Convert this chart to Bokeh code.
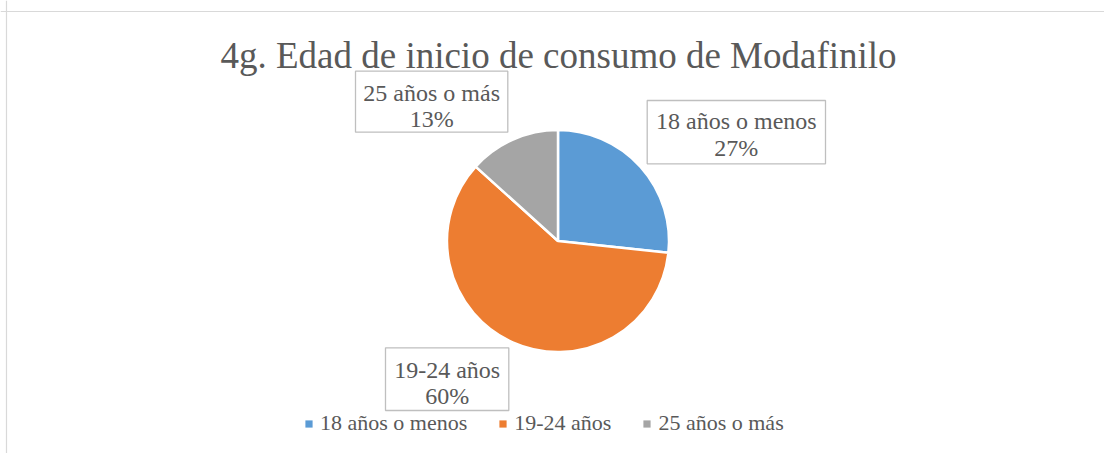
import numpy as np
from bokeh.plotting import figure
from bokeh.models import (Range1d, ColumnDataSource, BoxAnnotation, Label,
                          Legend, LegendItem, Span)
from bokeh.embed import file_html
from bokeh.resources import INLINE

# ---------------- data ----------------
title_text = "4g. Edad de inicio de consumo de Modafinilo"
categories = ["18 años o menos", "19-24 años", "25 años o más"]
shares = [26.7, 60.0, 13.3]          # percent
colors = ["#5B9BD5", "#ED7D31", "#A5A5A5"]

# ---------------- layout helpers ----------------
W, H = 1104, 453
FONT = "'Liberation Serif', 'Times New Roman', serif"
TXT = "#595959"
OFF = 0


def X(px):  # screenshot x -> data x
    return px - OFF


def Y(py):  # screenshot y -> data y (y up)
    return H - (py - OFF)


p = figure(width=W, height=H, x_range=Range1d(0, W), y_range=Range1d(0, H),
           output_backend="svg", toolbar_location=None, min_border=0,
           x_axis_location=None, y_axis_location=None)
p.grid.visible = False
p.outline_line_color = None
p.background_fill_color = "white"
p.border_fill_color = "white"

# chart frame (light gray)
p.add_layout(Span(location=Y(11), dimension="width", line_color="#d9d9d9", line_width=1.2))
p.add_layout(Span(location=X(6), dimension="height", line_color="#d9d9d9", line_width=1.2))

# ---------------- pie ----------------
vals = np.array(shares, dtype=float)
frac = np.concatenate([[0.0], np.cumsum(vals)]) / vals.sum()
start = np.pi / 2 - 2 * np.pi * frac[:-1]
end = np.pi / 2 - 2 * np.pi * frac[1:]
src = ColumnDataSource(dict(start=start, end=end, color=colors, cat=categories))
base = p.wedge(x=X(557.5), y=Y(240.5), radius=111, start_angle="start", end_angle="end",
               direction="clock", fill_color="color", line_alpha=0, source=src)
p.wedge(x=X(557.5), y=Y(240.5), radius=111, start_angle="start", end_angle="end",
        direction="clock", fill_color="color", line_color="white", line_width=2.5,
        source=src)

# ---------------- data labels ----------------
pct = [f"{int(round(v / vals.sum() * 100))}%" for v in vals]
SHIFT = 6  # compensation for text baseline placement
# (left, right, top, bottom, line1 baseline, line2 baseline) in screenshot px
boxes = [
    (646.7, 825.0, 100.0, 163.3, 126.7, 153.5),
    (385.0, 508.3, 347.3, 410.0, 375.0, 401.7),
    (355.0, 507.3, 70.7, 131.7, 98.3, 124.5),
]
for cat, pc, (l, r, t, b, b1, b2) in zip(categories, pct, boxes):
    p.add_layout(BoxAnnotation(left=X(l), right=X(r), top=Y(t), bottom=Y(b),
                               fill_color="white", fill_alpha=1.0,
                               line_color="#bfbfbf", line_width=1.3, line_alpha=1.0))
    cx = X((l + r) / 2)
    for txt, bl in ((cat, b1), (pc, b2)):
        p.add_layout(Label(x=cx, y=Y(bl - SHIFT), text=txt, text_align="center",
                           text_baseline="alphabetic", text_font=FONT,
                           text_font_size="24px", text_color=TXT))

# ---------------- title ----------------
p.add_layout(Label(x=X(558), y=Y(63.5 - 9), text=title_text, text_align="center",
                   text_baseline="alphabetic", text_font=FONT,
                   text_font_size="37px", text_color=TXT))

# ---------------- legend ----------------
legend = Legend(items=[LegendItem(label=c, renderers=[base], index=i)
                       for i, c in enumerate(categories)],
                orientation="horizontal", location=(X(304), 17),
                border_line_color=None, background_fill_alpha=0,
                padding=0, margin=0, spacing=31, label_standoff=7,
                glyph_width=9, glyph_height=9,
                label_text_font=FONT, label_text_font_size="22px",
                label_text_color=TXT)
p.add_layout(legend)

open("out.html", "w").write(file_html(p, INLINE))
